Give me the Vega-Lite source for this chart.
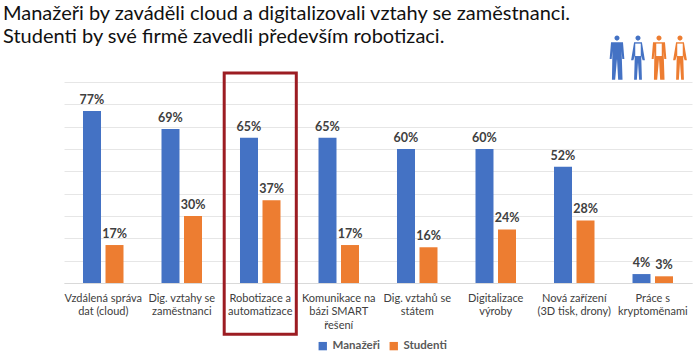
{
"$schema":"https://vega.github.io/schema/vega-lite/v6.json",
"width":628,"height":201,
"autosize":{"type":"none"},
"padding":{"left":64,"top":82,"right":8,"bottom":71},
"background":"white",
"title":{"text":["Manažeři by zaváděli cloud a digitalizovali vztahy se zaměstnanci.","Studenti by své firmě zavedli především robotizaci."],"anchor":"start","frame":"group","baseline":"bottom","dx":-61,"offset":-31,"fontSize":20,"font":"Lato","fontWeight":"normal","color":"#111111","lineHeight":23},
"config":{"view":{"stroke":null}},
"datasets":{
"main":[
{"kategorie":"Vzdálená správa|dat (cloud)","skupina":"Manažeři","hodnota":0.77},
{"kategorie":"Vzdálená správa|dat (cloud)","skupina":"Studenti","hodnota":0.17},
{"kategorie":"Dig. vztahy se|zaměstnanci","skupina":"Manažeři","hodnota":0.69},
{"kategorie":"Dig. vztahy se|zaměstnanci","skupina":"Studenti","hodnota":0.30},
{"kategorie":"Robotizace a|automatizace","skupina":"Manažeři","hodnota":0.65},
{"kategorie":"Robotizace a|automatizace","skupina":"Studenti","hodnota":0.37},
{"kategorie":"Komunikace na|bázi SMART|řešení","skupina":"Manažeři","hodnota":0.65},
{"kategorie":"Komunikace na|bázi SMART|řešení","skupina":"Studenti","hodnota":0.17},
{"kategorie":"Dig. vztahů se|státem","skupina":"Manažeři","hodnota":0.60},
{"kategorie":"Dig. vztahů se|státem","skupina":"Studenti","hodnota":0.16},
{"kategorie":"Digitalizace|výroby","skupina":"Manažeři","hodnota":0.60},
{"kategorie":"Digitalizace|výroby","skupina":"Studenti","hodnota":0.24},
{"kategorie":"Nová zařízení|(3D tisk, drony)","skupina":"Manažeři","hodnota":0.52},
{"kategorie":"Nová zařízení|(3D tisk, drony)","skupina":"Studenti","hodnota":0.28},
{"kategorie":"Práce s|kryptoměnami","skupina":"Manažeři","hodnota":0.04},
{"kategorie":"Práce s|kryptoměnami","skupina":"Studenti","hodnota":0.03}
],
"figures":[
{"figura":"muž M","tvar":"muž","skupina":"Manažeři"},
{"figura":"žena M","tvar":"žena","skupina":"Manažeři"},
{"figura":"muž S","tvar":"muž","skupina":"Studenti"},
{"figura":"žena S","tvar":"žena","skupina":"Studenti"}
]
},
"resolve":{"scale":{"x":"independent"},"axis":{"x":"independent"}},
"layer":[
{
"data":{"name":"main"},
"encoding":{
"x":{"field":"kategorie","type":"nominal","sort":null,"scale":{"padding":0.484,"paddingOuter":0.242},"axis":{"title":null,"labelAngle":0,"labelExpr":"split(datum.label,'|')","labelLineHeight":13.5,"labelFontSize":11,"labelFont":"Lato","labelColor":"#404040","labelPadding":9,"labelLimit":100,"ticks":false,"domainColor":"#d9d9d9","grid":false}}
},
"layer":[
{"mark":{"type":"bar","width":18},
"encoding":{
"xOffset":{"field":"skupina","type":"nominal","scale":{"paddingInner":0.2,"paddingOuter":0}},
"y":{"field":"hodnota","type":"quantitative","scale":{"domain":[0,0.9],"nice":false,"clamp":false},"axis":{"title":null,"tickCount":10,"labels":false,"ticks":false,"domain":false,"grid":true,"gridColor":"#e6e6e6"}},
"color":{"field":"skupina","type":"nominal","scale":{"domain":["Manažeři","Studenti"],"range":["#4472c4","#ed7d31"]},"legend":{"title":null,"orient":"none","legendX":253,"legendY":258,"direction":"horizontal","columns":2,"symbolType":"square","symbolSize":70,"symbolStrokeWidth":0,"labelFontSize":11.5,"labelFont":"Lato","labelFontWeight":"bold","labelColor":"#595959","columnPadding":8}}
}},
{"mark":{"type":"text","dy":-11,"font":"Lato","fontSize":12.5,"fontWeight":"bold","color":"#404040"},
"encoding":{
"xOffset":{"field":"skupina","type":"nominal","scale":{"paddingInner":0.2,"paddingOuter":0}},
"y":{"field":"hodnota","type":"quantitative"},
"text":{"field":"hodnota","type":"quantitative","format":".0%"},
"detail":{"field":"skupina"}
}},
{"transform":[{"filter":"datum.kategorie==='Robotizace a|automatizace' && datum.skupina==='Manažeři'"}],
"mark":{"type":"bar","fill":null,"fillOpacity":0,"stroke":"#9c1c22","strokeWidth":3,"width":{"band":1.78}},
"encoding":{"y":{"datum":0.94,"type":"quantitative"},"y2":{"datum":-0.23}}}
]
},
{
"data":{"name":"figures"},
"encoding":{
"x":{"field":"figura","type":"nominal","sort":null,"scale":{"type":"point","domain":["muž M","žena M","muž S","žena S"],"range":[553,616],"padding":0},"axis":null},
"y":{"datum":1.008,"type":"quantitative"}
},
"layer":[
{"mark":{"type":"point","filled":true,"size":2116,"opacity":1,"strokeWidth":0},
"encoding":{
"shape":{"field":"tvar","type":"nominal","legend":null,"scale":{"domain":["muž","žena"],"range":[
"M-0.11 -0.86A0.11 0.11 0 1 1 0.11 -0.86A0.11 0.11 0 1 1 -0.11 -0.86ZM-0.26 -0.68L0.26 -0.68L0.32 0.05L0.23 0.05L0.2 -0.3L0.24 0.95L0.05 0.95L0 0.05L-0.08 0.95L-0.22 0.95L-0.2 -0.3L-0.23 0.05L-0.32 0.05Z",
"M-0.11 -0.86A0.11 0.11 0 1 1 0.11 -0.86A0.11 0.11 0 1 1 -0.11 -0.86ZM-0.17 -0.68L0.17 -0.68L0.3 0.1L0.2 0.1L0.14 -0.1L0.17 0.95L0.05 0.95L0 0.2L-0.05 0.95L-0.17 0.95L-0.14 -0.1L-0.2 0.1L-0.3 0.1Z"]}},
"color":{"field":"skupina","type":"nominal"}
}},
{"transform":[{"filter":"datum.figura!=='muž M'"}],
"mark":{"type":"point","filled":true,"size":2116,"opacity":1,"strokeWidth":0,"color":"white","shape":"M-0.12 -0.62L0.12 -0.62L0.12 -0.08L-0.12 -0.08Z"}}
]
}
]
}
